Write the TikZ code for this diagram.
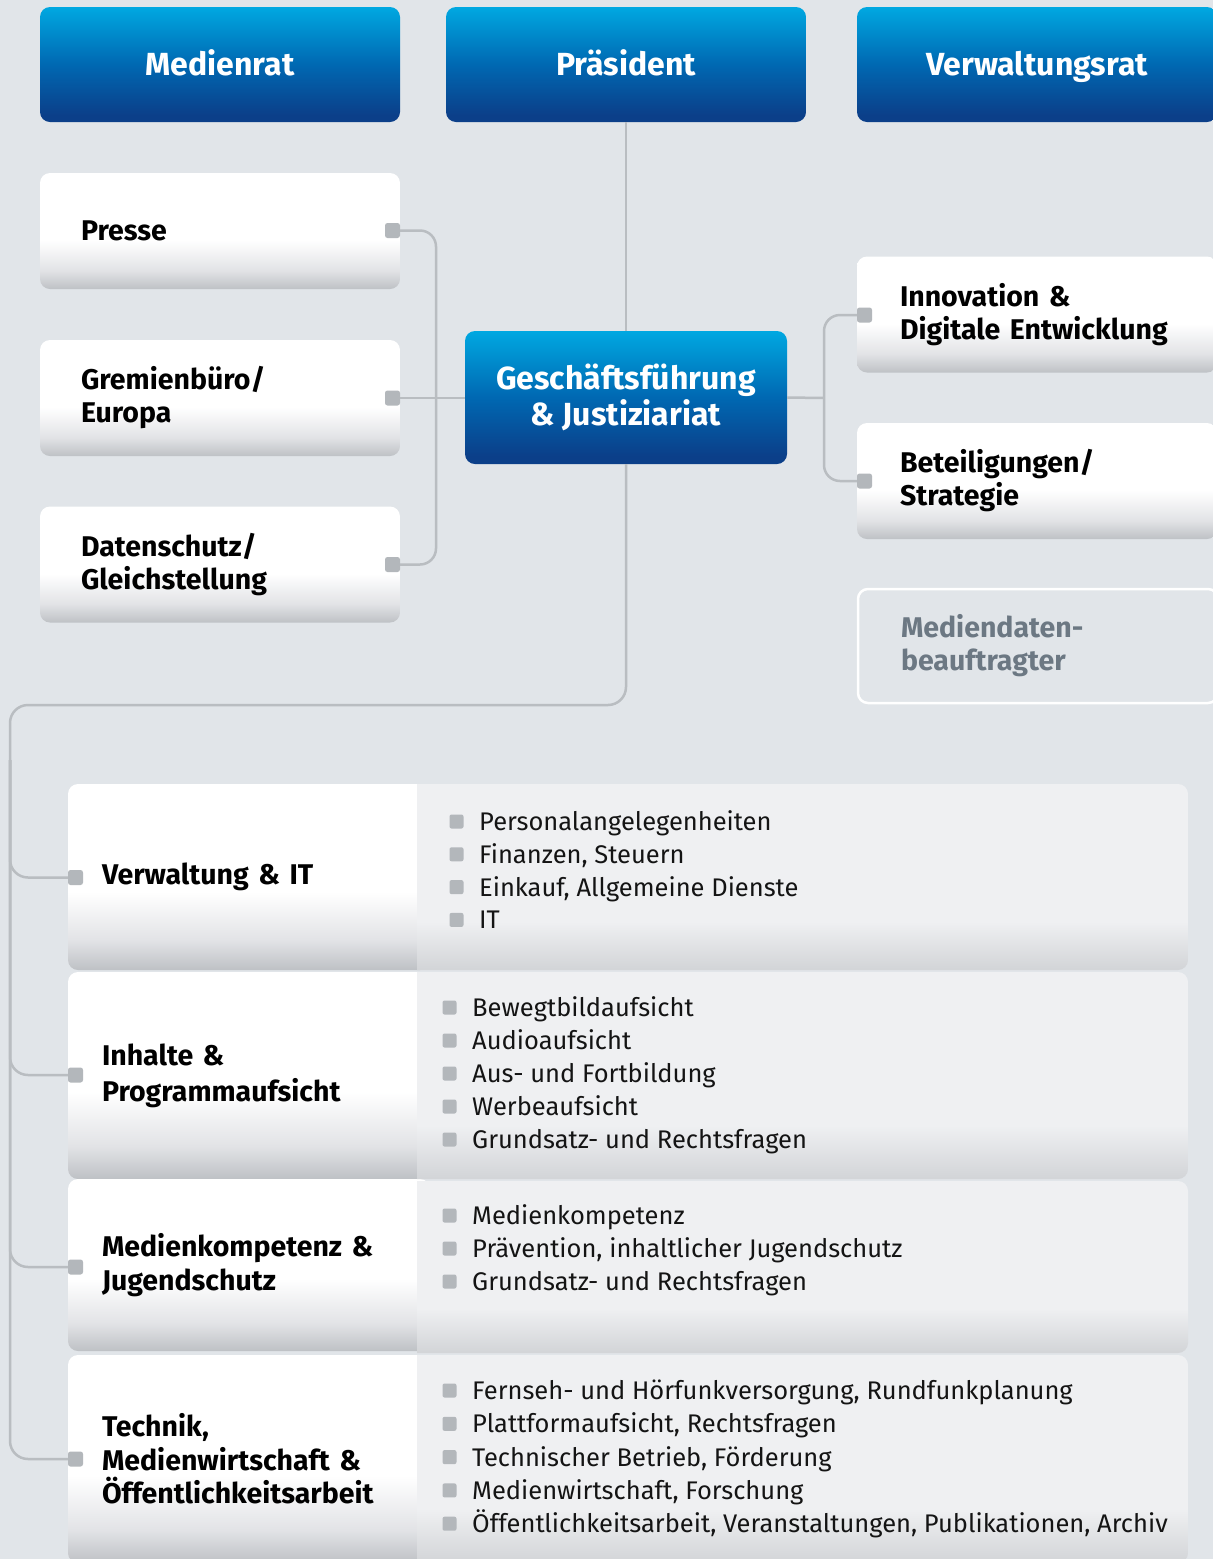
\documentclass[tikz,border=0pt]{standalone}
\usepackage{fontspec}
\setmainfont{Fira Sans}
\definecolor{bg}{HTML}{E1E5E9}
\definecolor{connc}{HTML}{B9BDC1}
\definecolor{sqc}{HTML}{B3B7BB}
\definecolor{bluetop}{HTML}{00A8E1}
\definecolor{bluemid}{HTML}{0068B2}
\definecolor{bluebot}{HTML}{0B3F89}
\definecolor{greybot}{HTML}{BEC1C5}
\definecolor{greymid}{HTML}{E2E3E6}
\definecolor{paneltop}{HTML}{EFF0F2}
\definecolor{panelbot}{HTML}{D2D4D7}
\definecolor{mdtext}{HTML}{6C7883}
\pgfdeclareverticalshading{blueshade}{100bp}{color(0bp)=(bluebot); color(28bp)=(bluebot); color(50bp)=(bluemid); color(75bp)=(bluetop); color(100bp)=(bluetop)}
\pgfdeclareverticalshading{whiteshade}{100bp}{color(0bp)=(greybot); color(25bp)=(greybot); color(33bp)=(greymid); color(46bp)=(white); color(100bp)=(white)}
\pgfdeclareverticalshading{panelshade}{100bp}{color(0bp)=(panelbot); color(25bp)=(panelbot); color(38bp)=(paneltop); color(100bp)=(paneltop)}
\begin{document}
\begin{tikzpicture}[x=1pt,y=-1pt,
  bluebox/.style={rounded corners=10pt, shading=blueshade, text=white, font=\fontsize{32}{35}\selectfont\bfseries, inner sep=0pt, minimum width=360pt, align=center},
  toptext/.style={text height=25pt, text depth=4pt},
  whitebox/.style={rounded corners=10pt, shading=whiteshade, text=black, font=\fontsize{28.5}{33}\selectfont\bfseries, inner ysep=0pt, align=left},
  mdbox/.style={rounded corners=10pt, draw=white, line width=2.5pt, fill=bg, text=mdtext, font=\fontsize{28.5}{33}\selectfont\bfseries, inner ysep=0pt, align=left, text width=274pt, inner xsep=43pt, minimum height=114pt},
  deptbox/.style={rounded corners=10pt, shading=whiteshade, text=black, font=\fontsize{28.5}{33.5}\selectfont\bfseries, inner ysep=0pt, align=left, minimum width=362pt, text width=294pt, inner xsep=34pt},
  sqm/.style={fill=sqc, rounded corners=2.5pt, minimum size=15pt, inner sep=0pt},
  bul/.style={fill=sqc, rounded corners=2pt, minimum size=14pt, inner sep=0pt},
  itemtext/.style={anchor=base west, inner sep=0pt, font=\fontsize{25.5}{30}\selectfont, text=black!92},
  conn/.style={draw=connc, line width=2.5pt}
]
\useasboundingbox (0,0) rectangle (1213,1559);
\clip (0,0) rectangle (1213,1559);
\fill[bg] (0,0) rectangle (1213,1559);

% ---------- top row ----------
\node[bluebox, toptext, minimum height=115pt] (medienrat) at (220,64.5) {Medienrat};
\node[bluebox, toptext, minimum height=115pt] (praes) at (626,64.5) {Präsident};
\node[bluebox, toptext, minimum height=115pt] (vrat) at (1037,64.5) {Verwaltungsrat};

% ---------- central box ----------
\node[bluebox, minimum width=322pt, minimum height=133pt, font=\fontsize{32}{35.5}\selectfont\bfseries] (gf) at (626,397.5) {Geschäftsführung\\\& Justiziariat};

% ---------- left staff boxes ----------
\node[whitebox, text width=278pt, inner xsep=41pt, minimum height=116pt] (presse) at (220,231) {Presse};
\node[whitebox, text width=278pt, inner xsep=41pt, minimum height=116pt] (grem) at (220,398) {Gremienbüro/\\Europa};
\node[whitebox, text width=278pt, inner xsep=41pt, minimum height=116pt] (daten) at (220,564.5) {Datenschutz/\\Gleichstellung};

% ---------- right staff boxes ----------
\node[whitebox, text width=274pt, inner xsep=43pt, minimum height=116pt] (inno) at (1037,314.5) {Innovation \&\\Digitale Entwicklung};
\node[whitebox, text width=274pt, inner xsep=43pt, minimum height=116pt] (bet) at (1037,481) {Beteiligungen/\\Strategie};
\node[mdbox] (mdb) at (1038,646) {Mediendaten-\\beauftragter};

% ---------- department boxes ----------
\node[deptbox, minimum height=186pt] (verw) at (249,877) {Verwaltung \& IT};
\node[deptbox, minimum height=207pt, font=\fontsize{28.5}{36}\selectfont\bfseries] (inh) at (249,1075.5) {Inhalte \&\\Programmaufsicht};
\node[deptbox, minimum height=172pt] (medk) at (249,1265) {Medienkompetenz \&\\Jugendschutz};
\node[deptbox, minimum height=208pt] (tech) at (249,1459) {Technik,\\Medienwirtschaft \&\\Öffentlichkeitsarbeit};

\begin{scope}
  \clip (417,0) rectangle (1213,1559);
  \path[shading=panelshade, rounded corners=10pt] (400,784) rectangle (1188,970);
  \path[shading=panelshade, rounded corners=10pt] (400,972) rectangle (1188,1179);
  \path[shading=panelshade, rounded corners=10pt] (400,1181) rectangle (1188,1353);
  \path[shading=panelshade, rounded corners=10pt] (400,1355) rectangle (1188,1563);
\end{scope}

% ---------- connector squares ----------
\node[sqm] (sqPresse) at (392.5,230.5) {};
\node[sqm] (sqGrem) at (392.5,398) {};
\node[sqm] (sqDaten) at (392.5,564.5) {};
\node[sqm] (sqInno) at (864.5,315) {};
\node[sqm] (sqBet) at (864.5,481) {};
\node[sqm] (sqVerw) at (75.5,877.5) {};
\node[sqm] (sqInh) at (75.5,1075) {};
\node[sqm] (sqMedk) at (75.5,1267) {};
\node[sqm] (sqTech) at (75.5,1459) {};

% ---------- bus points ----------
\coordinate (lbus) at (436,398);
\coordinate (rbus) at (824,398);
\coordinate (mbus) at (10,705);
\coordinate (mbus2) at (10,760);

% ---------- lists ----------
\foreach \t [count=\i from 0] in {Personalangelegenheiten, {Finanzen, Steuern}, {Einkauf, Allgemeine Dienste}, IT} {
  \node[bul] (vwb\i) at (456.5, 821.5+32.8*\i) {};
  \node[itemtext] (vwt\i) at (479, 830.5+32.8*\i) {\t};
}
\foreach \t [count=\i from 0] in {Bewegtbildaufsicht, Audioaufsicht, Aus- und Fortbildung, Werbeaufsicht, Grundsatz- und Rechtsfragen} {
  \node[bul] (ihb\i) at (449.5, 1007.5+33*\i) {};
  \node[itemtext] (iht\i) at (472, 1016.5+33*\i) {\t};
}
\foreach \t [count=\i from 0] in {Medienkompetenz, {Prävention, inhaltlicher Jugendschutz}, Grundsatz- und Rechtsfragen} {
  \node[bul] (mkb\i) at (449.5, 1215.5+33*\i) {};
  \node[itemtext] (mkt\i) at (472, 1224.5+33*\i) {\t};
}
\foreach \t [count=\i from 0] in {{Fernseh- und Hörfunkversorgung, Rundfunkplanung}, {Plattformaufsicht, Rechtsfragen}, {Technischer Betrieb, Förderung}, {Medienwirtschaft, Forschung}, {Öffentlichkeitsarbeit, Veranstaltungen, Publikationen, Archiv}} {
  \node[bul] (tcb\i) at (449.5, 1390.5+33.3*\i) {};
  \node[itemtext] (tct\i) at (472, 1399.5+33.3*\i) {\t};
}

% ---------- connectors ----------
\draw[conn] (praes.south) -- (gf.north);
\draw[conn, rounded corners=16pt] (sqPresse.east) -| (lbus) |- (sqDaten.east);
\draw[conn] (sqGrem.east) -- (sqGrem.east -| gf.west);
\draw[conn] (gf.east) -- (rbus);
\draw[conn, rounded corners=16pt] (sqInno.west) -| (rbus) |- (sqBet.west);
\draw[conn, rounded corners=18pt] (gf.south) |- (mbus) |- (sqVerw.west);
\draw[conn, rounded corners=18pt] (mbus2) |- (sqInh.west);
\draw[conn, rounded corners=18pt] (mbus2) |- (sqMedk.west);
\draw[conn, rounded corners=18pt] (mbus2) |- (sqTech.west);
\end{tikzpicture}
\end{document}
